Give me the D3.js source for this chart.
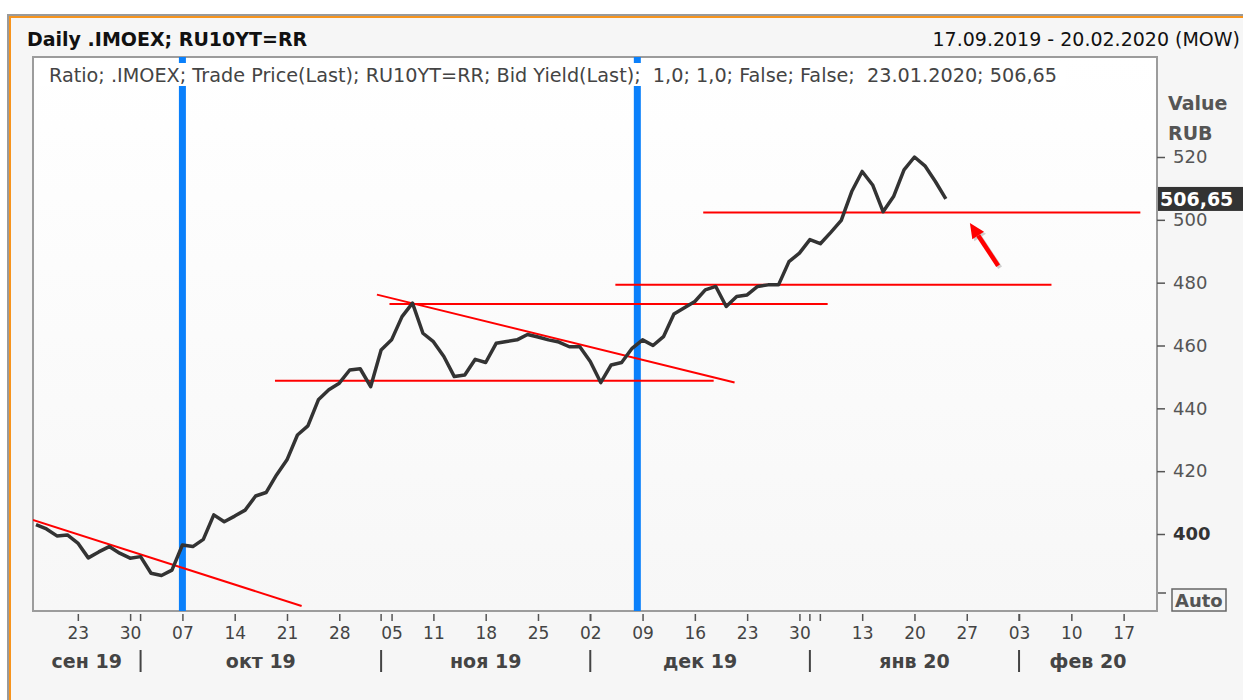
<!DOCTYPE html>
<html>
<head>
<meta charset="utf-8">
<script src="https://cdn.jsdelivr.net/npm/d3@7"></script>
<style>
  body { margin: 0; background: #fff; }
  svg text { font-family: Verdana, "DejaVu Sans", sans-serif; white-space: pre; }
</style>
</head>
<body>
<div id="chart"></div>
<script>
// trading sessions per month (day numbers)
const monthNames = ["сен 19", "окт 19", "ноя 19", "дек 19", "янв 20", "фев 20"];
const monthDays = [
    [17, 18, 19, 20, 23, 24, 25, 26, 27, 30],
    [1, 2, 3, 4, 7, 8, 9, 10, 11, 14, 15, 16, 17, 18, 21, 22, 23, 24, 25, 28, 29, 30, 31],
    [1, 5, 6, 7, 8, 11, 12, 13, 14, 15, 18, 19, 20, 21, 22, 25, 26, 27, 28, 29],
    [2, 3, 4, 5, 6, 9, 10, 11, 12, 13, 16, 17, 18, 19, 20, 23, 24, 25, 26, 27, 30],
    [3, 6, 8, 9, 10, 13, 14, 15, 16, 17, 20, 21, 22, 23, 24, 27, 28, 29, 30, 31],
    [3, 4, 5, 6, 7, 10, 11, 12, 13, 14, 17, 18, 19, 20]
];
// labelled week ticks [month, day]
const weekTicks = [[0, 23], [0, 30], [1, 7], [1, 14], [1, 21], [1, 28], [2, 5], [2, 11], [2, 18], [2, 25],
    [3, 2], [3, 9], [3, 16], [3, 23], [3, 30], [4, 13], [4, 20], [4, 27], [5, 3], [5, 10], [5, 17]];
const quietTicks = [[4, 6]];

// .IMOEX / RU10YT ratio, one value per session from 17.09.2019
const ratio = [403.0, 401.6, 399.4, 399.7, 397.1, 392.4, 394.3, 396.0, 393.9, 392.3,
    392.8, 387.5, 386.8, 388.5, 396.5, 396.0, 398.3, 406.1, 403.9, 405.7,
    407.6, 412.1, 413.2, 418.8, 423.6, 431.5, 434.4, 442.7, 445.9, 448.0,
    452.2, 452.6, 446.9, 458.6, 461.8, 469.2, 473.5, 463.9, 461.2, 456.5,
    450.1, 450.6, 455.6, 454.6, 460.7, 461.3, 461.8, 463.5, 462.7, 461.8,
    461.1, 459.6, 459.6, 454.9, 448.2, 453.8, 454.6, 459.1, 461.8, 460.0,
    462.8, 470.0, 472.0, 474.0, 477.7, 478.8, 472.4, 475.6, 476.1, 478.8,
    479.3, 479.3, 486.7, 489.4, 493.7, 492.4, 496.0, 499.8, 509.0, 515.4,
    511.1, 502.6, 507.4, 515.9, 520.0, 517.2, 512.2, 506.65];

const yTicks = [400, 420, 440, 460, 480, 500, 520];

// drawn annotations: [session index, value]
const trendLines = [
    [[-0.3, 404.5], [25.4, 377.1]],
    [[22.85, 448.8], [64.8, 448.8]],
    [[33.8, 473.2], [75.7, 473.2]],
    [[32.6, 476.2], [66.8, 448.2]],
    [[55.4, 479.3], [97.1, 479.3]],
    [[63.8, 502.3], [105.6, 502.3]]
];
const arrowFrom = [92.0, 485.4];
const arrowTo = [89.3, 499.0];
const markers = [14, 57.5];
const lastValue = "506,65";

// build session list
var sessions = [];
monthDays.forEach((days, m) => days.forEach(d => sessions.push({ m: m, d: d })));
var idx = (m, d) => sessions.findIndex(s => s.m == m && s.d == d);
var monthStart = monthDays.map((days, m) => idx(m, days[0]));

var width = 1243, height = 700;
var plot = { left: 33, top: 57, right: 1157, bottom: 611 };
var font = "Verdana, 'DejaVu Sans', sans-serif";

const svg = d3.select("#chart").append("svg")
    .attr("width", width)
    .attr("height", height);

var grad = svg.append("defs").append("linearGradient")
    .attr("id", "bg").attr("x1", 0).attr("y1", 0).attr("x2", 0).attr("y2", 1);
grad.append("stop").attr("offset", "0%").attr("stop-color", "#ffffff");
grad.append("stop").attr("offset", "100%").attr("stop-color", "#f7f7f7");
svg.select("defs").append("clipPath").attr("id", "clip")
    .append("rect")
    .attr("x", plot.left).attr("y", plot.top)
    .attr("width", plot.right - plot.left).attr("height", plot.bottom - plot.top);

// outer frame
svg.append("rect").attr("x", 7).attr("y", 14).attr("width", 1260).attr("height", 720)
    .attr("fill", "#9a9a9a");
svg.append("rect").attr("x", 9).attr("y", 16).attr("width", 1260).attr("height", 720)
    .attr("fill", "#f7941d");
svg.append("rect").attr("x", 11).attr("y", 18).attr("width", 1260).attr("height", 720)
    .attr("fill", "#f6f6f6");

svg.append("text").text("Daily .IMOEX; RU10YT=RR")
    .attr("x", 27).attr("y", 46)
    .attr("font-size", 19).attr("font-weight", "bold").attr("fill", "#111");
svg.append("text").text("17.09.2019 - 20.02.2020 (MOW)")
    .attr("x", 1240).attr("y", 46).attr("text-anchor", "end")
    .attr("font-size", 19).attr("fill", "#111");

var x = d3.scaleLinear().domain([0, sessions.length - 1]).range([36, 1155]);
var y = d3.scaleLinear().domain([400, 520]).range([534, 157]);

svg.append("rect")
    .attr("x", plot.left).attr("y", plot.top)
    .attr("width", plot.right - plot.left).attr("height", plot.bottom - plot.top)
    .attr("fill", "url(#bg)").attr("stroke", "#9c9c9c").attr("stroke-width", 2);

var g = svg.append("g").attr("clip-path", "url(#clip)");

g.selectAll(".marker")
    .data(markers)
    .enter().append("line")
    .attr("class", "marker")
    .attr("x1", d => x(d)).attr("x2", d => x(d))
    .attr("y1", plot.top).attr("y2", plot.bottom)
    .attr("stroke", "#0a80fb").attr("stroke-width", 7);

// legend line sits on a box over the markers
g.append("rect").attr("x", 36).attr("y", 63).attr("width", 1030).attr("height", 23)
    .attr("fill", "#ffffff");
svg.append("text")
    .text("Ratio; .IMOEX; Trade Price(Last); RU10YT=RR; Bid Yield(Last);  1,0; 1,0; False; False;  23.01.2020; 506,65")
    .attr("x", 49).attr("y", 82)
    .attr("font-size", 19).attr("fill", "#444")
    .attr("textLength", 1008).attr("lengthAdjust", "spacingAndGlyphs");

g.selectAll(".trend")
    .data(trendLines)
    .enter().append("line")
    .attr("class", "trend")
    .attr("x1", d => x(d[0][0])).attr("y1", d => y(d[0][1]))
    .attr("x2", d => x(d[1][0])).attr("y2", d => y(d[1][1]))
    .attr("stroke", "#ff0000").attr("stroke-width", 2);

var line = d3.line().x((d, i) => x(i)).y(d => y(d));
g.append("path")
    .datum(ratio)
    .attr("d", line)
    .attr("fill", "none")
    .attr("stroke", "#333")
    .attr("stroke-width", 3.5)
    .attr("stroke-linejoin", "round");

// arrow
function drawArrow(dx, dy, color) {
    var x0 = x(arrowFrom[0]) + dx, y0 = y(arrowFrom[1]) + dy;
    var x1 = x(arrowTo[0]) + dx, y1 = y(arrowTo[1]) + dy;
    var a = Math.atan2(y1 - y0, x1 - x0);
    var hl = 15, hw = 7;
    var bx = x1 - hl * Math.cos(a), by = y1 - hl * Math.sin(a);
    g.append("line")
        .attr("x1", x0).attr("y1", y0).attr("x2", bx).attr("y2", by)
        .attr("stroke", color).attr("stroke-width", 4.5);
    g.append("path")
        .attr("d", "M" + x1 + "," + y1 +
            "L" + (bx + hw * Math.sin(a)) + "," + (by - hw * Math.cos(a)) +
            "L" + (bx - hw * Math.sin(a)) + "," + (by + hw * Math.cos(a)) + "Z")
        .attr("fill", color);
}
drawArrow(2, 2, "rgba(0,0,0,0.18)");
drawArrow(0, 0, "#ff0000");

// right axis
var yAxis = d3.axisRight(y).tickValues(yTicks).tickSize(8).tickPadding(8)
    .tickFormat(d3.format("d"));
var ya = svg.append("g")
    .attr("transform", "translate(" + plot.right + ",0)")
    .call(yAxis);
ya.select(".domain").remove();
ya.selectAll("line").attr("stroke", "#555").attr("stroke-width", 1.5);
ya.selectAll("text").attr("font-size", 18).attr("font-family", font)
    .attr("font-weight", d => d == 400 ? "bold" : "normal")
    .attr("fill", d => d == 400 ? "#333" : "#555");

svg.append("text").text("Value").attr("x", 1168).attr("y", 110)
    .attr("font-size", 19).attr("font-weight", "bold").attr("fill", "#555");
svg.append("text").text("RUB").attr("x", 1168).attr("y", 140)
    .attr("font-size", 19).attr("font-weight", "bold").attr("fill", "#555");

var lastY = y(ratio[ratio.length - 1]);
svg.append("rect").attr("x", 1158).attr("y", lastY - 12).attr("width", 90).attr("height", 24)
    .attr("fill", "#333");
svg.append("text").text(lastValue).attr("x", 1160).attr("y", lastY + 7)
    .attr("font-size", 19).attr("font-weight", "bold").attr("fill", "#fff");

svg.append("line").attr("x1", 1158).attr("x2", 1166).attr("y1", 593).attr("y2", 593)
    .attr("stroke", "#555").attr("stroke-width", 1.5);
svg.append("rect").attr("x", 1172).attr("y", 589).attr("width", 54).attr("height", 22)
    .attr("fill", "none").attr("stroke", "#666").attr("stroke-width", 1.5);
svg.append("text").text("Auto").attr("x", 1175).attr("y", 607)
    .attr("font-size", 18).attr("font-weight", "bold").attr("fill", "#555");

// bottom axis: week ticks
var tickIdx = weekTicks.map(t => idx(t[0], t[1]));
var xAxis = d3.axisBottom(x).tickValues(tickIdx).tickSize(7).tickPadding(6)
    .tickFormat((d, i) => String(weekTicks[i][1]).padStart(2, "0"));
var xa = svg.append("g")
    .attr("transform", "translate(0," + (plot.bottom + 3) + ")")
    .call(xAxis);
xa.select(".domain").remove();
xa.selectAll("line").attr("stroke", "#555").attr("stroke-width", 1.5);
xa.selectAll("text").attr("font-size", 17).attr("fill", "#444").attr("font-family", font);

var extraTicks = monthStart.slice(1).concat(quietTicks.map(t => idx(t[0], t[1])));
svg.selectAll(".xtick2")
    .data(extraTicks)
    .enter().append("line")
    .attr("x1", d => x(d)).attr("x2", d => x(d))
    .attr("y1", plot.bottom + 3).attr("y2", plot.bottom + 10)
    .attr("stroke", "#555").attr("stroke-width", 1.5);

// month separators and labels
svg.selectAll(".msep")
    .data(monthStart.slice(1))
    .enter().append("line")
    .attr("x1", d => x(d)).attr("x2", d => x(d))
    .attr("y1", 650).attr("y2", 672)
    .attr("stroke", "#444").attr("stroke-width", 2);

var bounds = monthStart.map(d => x(d));
bounds[0] = plot.left;
bounds.push(plot.right);
svg.selectAll(".mlab")
    .data(monthNames)
    .enter().append("text")
    .text(d => d)
    .attr("x", (d, i) => (bounds[i] + bounds[i + 1]) / 2)
    .attr("y", 668)
    .attr("text-anchor", "middle")
    .attr("font-size", 19).attr("font-weight", "bold").attr("fill", "#444");
</script>
</body>
</html>
